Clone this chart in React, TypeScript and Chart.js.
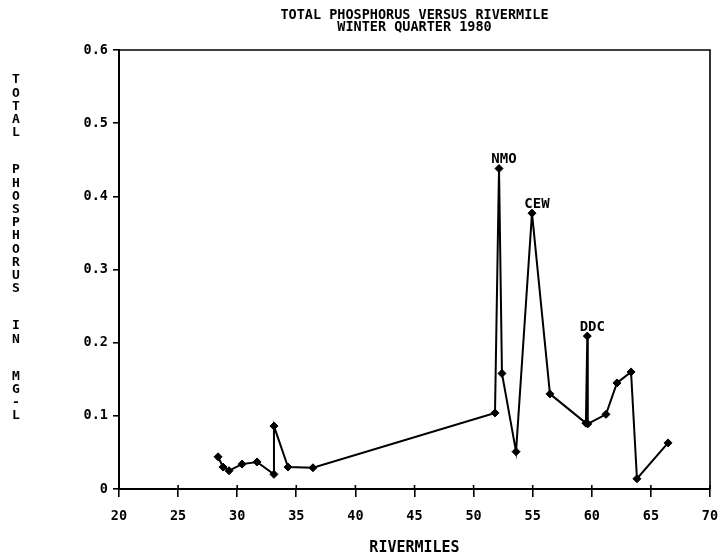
import React, { useEffect, useRef } from "react";
import { Chart, registerables } from "chart.js";

Chart.register(...registerables);

const TITLE_LINES = ["TOTAL PHOSPHORUS VERSUS RIVERMILE", "WINTER QUARTER 1980"];
const Y_TITLE = "TOTAL PHOSPHORUS IN MG-L";
const X_TITLE = "RIVERMILES";

const RIVERMILES = [
  28.38, 28.8, 29.31, 30.41, 31.68, 33.11, 33.11, 34.3, 36.41,
  51.81, 52.15, 52.4, 53.59, 54.94, 56.46,
  59.5, 59.62, 59.66, 61.2, 62.13, 63.32, 63.82, 66.45,
];
const PHOSPHORUS = [
  0.044, 0.03, 0.025, 0.034, 0.037, 0.02, 0.086, 0.03, 0.029,
  0.104, 0.438, 0.158, 0.051, 0.377, 0.13,
  0.09, 0.209, 0.089, 0.102, 0.145, 0.16, 0.014, 0.063,
];

const STATION_NAMES = ["NMO", "CEW", "DDC"];
const STATION_POINT_INDEX = [10, 13, 16];

const X_TICKS = [20, 25, 30, 35, 40, 45, 50, 55, 60, 65, 70];
const X_TICK_LABELS = ["20", "25", "30", "35", "40", "45", "50", "55", "60", "65", "70"];
const Y_TICKS = [0, 0.1, 0.2, 0.3, 0.4, 0.5, 0.6];
const Y_TICK_LABELS = ["0", "0.1", "0.2", "0.3", "0.4", "0.5", "0.6"];

const FONT_FAMILY = "'DejaVu Sans Mono', 'Liberation Mono', monospace";

const decorPlugin = {
  id: "decor",
  afterDraw(chart: any) {
    const ctx = chart.ctx;
    const area = chart.chartArea;
    const xs = chart.scales.x;
    ctx.save();
    ctx.strokeStyle = "#000";
    ctx.lineWidth = 1.6;
    ctx.beginPath();
    ctx.moveTo(area.left, area.top);
    ctx.lineTo(area.right, area.top);
    ctx.lineTo(area.right, area.bottom);
    ctx.stroke();
    X_TICKS.forEach((v) => {
      const px = xs.getPixelForValue(v);
      ctx.beginPath();
      ctx.moveTo(px, area.bottom);
      ctx.lineTo(px, area.bottom - 4);
      ctx.stroke();
    });

    ctx.fillStyle = "#000";
    ctx.font = `bold 13.5px ${FONT_FAMILY}`;
    ctx.textAlign = "center";
    ctx.textBaseline = "middle";
    const cx = (area.left + area.right) / 2;
    TITLE_LINES.forEach((t, i) => {
      ctx.fillText(t, cx, 15 + i * 12.5);
    });
    ctx.font = `bold 15px ${FONT_FAMILY}`;
    ctx.fillText(X_TITLE, cx, 548);
    ctx.font = `bold 13px ${FONT_FAMILY}`;
    let y = 80;
    const pitch = 13.2;
    const gap = 24;
    for (let i = 0; i < Y_TITLE.length; i++) {
      const ch = Y_TITLE[i];
      if (ch === " ") {
        y += gap;
        continue;
      }
      ctx.fillText(ch, 16, y);
      y += pitch;
    }
    ctx.restore();
  },
  afterDatasetsDraw(chart: any) {
    const ctx = chart.ctx;
    const meta = chart.getDatasetMeta(0);
    ctx.save();
    ctx.fillStyle = "#000";
    ctx.font = `bold 14px ${FONT_FAMILY}`;
    ctx.textAlign = "center";
    ctx.textBaseline = "middle";
    STATION_POINT_INDEX.forEach((idx, i) => {
      const el = meta.data[idx];
      ctx.fillText(STATION_NAMES[i], el.x + 5, el.y - 9);
    });
    ctx.restore();
  },
};

export default function App() {
  const canvasRef = useRef<HTMLCanvasElement | null>(null);

  useEffect(() => {
    const canvas = canvasRef.current;
    if (!canvas) return;
    const tickFont = { family: FONT_FAMILY, size: 13.5, weight: "bold" as const };
    const chart = new Chart(canvas, {
      type: "scatter",
      data: {
        datasets: [
          {
            data: RIVERMILES.map((x, i) => ({ x, y: PHOSPHORUS[i] })),
            showLine: true,
            borderColor: "#000",
            borderWidth: 2,
            backgroundColor: "#000",
            pointStyle: "rectRot",
            pointRadius: 4,
            pointBackgroundColor: "#000",
            pointBorderColor: "#000",
            pointBorderWidth: 1,
            tension: 0,
          },
        ],
      },
      options: {
        responsive: false,
        animation: false,
        layout: { padding: { top: 50, right: 11, left: 0, bottom: 0 } },
        plugins: {
          legend: { display: false },
          tooltip: { enabled: false },
          title: { display: false },
        },
        scales: {
          x: {
            type: "linear",
            min: 20,
            max: 70,
            afterBuildTicks: (s: any) => {
              s.ticks = X_TICKS.map((v) => ({ value: v }));
            },
            afterFit: (s: any) => {
              s.height = 69;
              s.paddingLeft = 0;
              s.paddingRight = 0;
            },
            ticks: {
              color: "#000",
              font: tickFont,
              padding: 11,
              maxRotation: 0,
              autoSkip: false,
              callback: (_v: any, i: number) => X_TICK_LABELS[i],
            },
            grid: {
              drawOnChartArea: false,
              drawTicks: true,
              tickLength: 8,
              color: "#000",
              lineWidth: 1.6,
            },
            border: { display: true, color: "#000", width: 2 },
          },
          y: {
            type: "linear",
            min: 0,
            max: 0.6,
            afterBuildTicks: (s: any) => {
              s.ticks = Y_TICKS.map((v) => ({ value: v }));
            },
            afterFit: (s: any) => {
              s.width = 119;
              s.paddingTop = 0;
              s.paddingBottom = 0;
            },
            ticks: {
              color: "#000",
              font: tickFont,
              padding: 5,
              autoSkip: false,
              callback: (_v: any, i: number) => Y_TICK_LABELS[i],
            },
            grid: {
              drawOnChartArea: false,
              drawTicks: true,
              tickLength: 6,
              color: "#000",
              lineWidth: 1.6,
            },
            border: { display: true, color: "#000", width: 2 },
          },
        },
      },
      plugins: [decorPlugin],
    });
    return () => chart.destroy();
  }, []);

  return (
    <div
      style={{
        position: "fixed",
        left: 0,
        top: 0,
        width: 721,
        height: 558,
        background: "#fff",
      }}
    >
      <canvas ref={canvasRef} width={721} height={558} style={{ display: "block" }} />
    </div>
  );
}
